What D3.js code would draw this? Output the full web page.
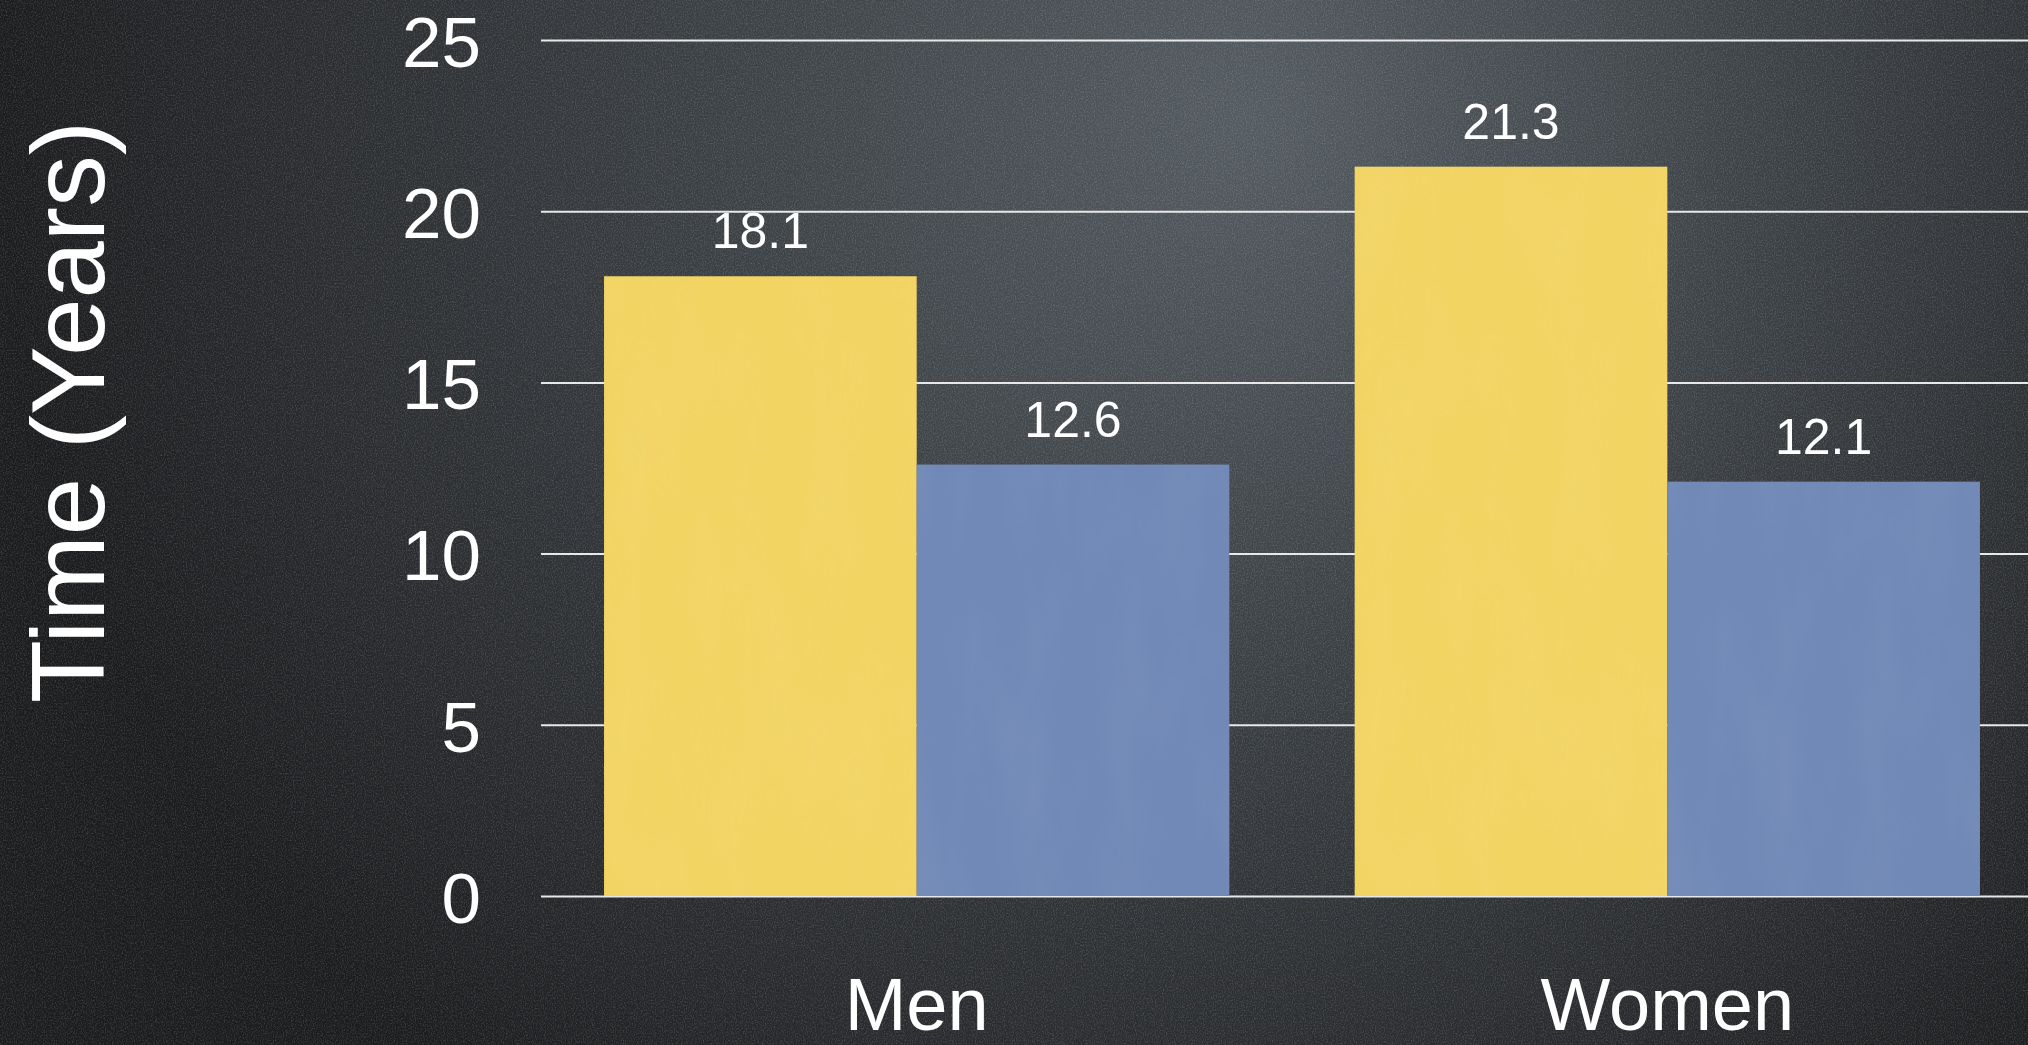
<!DOCTYPE html>
<html>
<head>
<meta charset="utf-8">
<script src="https://cdn.jsdelivr.net/npm/d3@7"></script>
<style>
  html, body { margin: 0; padding: 0; background: #222325; overflow: hidden; }
  svg { display: block; }
  text { font-family: "Liberation Sans", Arial, Helvetica, sans-serif; fill: #ffffff; }
</style>
</head>
<body>
<svg id="chart" width="2028" height="1045"></svg>
<script>
// Chart data
const categories = ["Men", "Women"];
const seriesKeys = ["first", "second"];
const firstValues = [18.1, 21.3];
const secondValues = [12.6, 12.1];
const yTicks = [0, 5, 10, 15, 20, 25];
const yTitle = "Time (Years)";
const seriesColors = ["#f2d463", "#7189b7"];

const W = 2028, H = 1045;
const svg = d3.select("#chart");
const defs = svg.append("defs");

// Chalkboard background: soft light patch in the upper middle fading to dark edges
const bg = defs.append("radialGradient")
  .attr("id", "board")
  .attr("gradientUnits", "userSpaceOnUse")
  .attr("cx", 1250).attr("cy", 120).attr("r", 1250)
  .attr("fx", 1250).attr("fy", 120);
bg.append("stop").attr("offset", "0%").attr("stop-color", "#545c61");
bg.append("stop").attr("offset", "40%").attr("stop-color", "#3d4246");
bg.append("stop").attr("offset", "75%").attr("stop-color", "#2a2c2f");
bg.append("stop").attr("offset", "100%").attr("stop-color", "#1b1c1e");

// Fine grain for the board surface
const grain = defs.append("filter").attr("id", "grain")
  .attr("x", 0).attr("y", 0).attr("width", "100%").attr("height", "100%");
grain.append("feTurbulence").attr("type", "fractalNoise")
  .attr("baseFrequency", "0.9 0.6").attr("numOctaves", 2).attr("seed", 7).attr("result", "n");
grain.append("feColorMatrix").attr("in", "n").attr("type", "matrix")
  .attr("values", "0 0 0 0 1  0 0 0 0 1  0 0 0 0 1  0 0 0 0.9 -0.38");

// Soft mottling for the bars
const mottle = defs.append("filter").attr("id", "mottle")
  .attr("x", 0).attr("y", 0).attr("width", "100%").attr("height", "100%");
mottle.append("feTurbulence").attr("type", "fractalNoise")
  .attr("baseFrequency", "0.02 0.006").attr("numOctaves", 3).attr("seed", 3).attr("result", "n");
mottle.append("feColorMatrix").attr("in", "n").attr("type", "matrix")
  .attr("values", "0 0 0 0 1  0 0 0 0 1  0 0 0 0 1  0 0 0 0.5 -0.2");

svg.append("rect").attr("width", W).attr("height", H).attr("fill", "url(#board)");
svg.append("rect").attr("width", W).attr("height", H).attr("filter", "url(#grain)").attr("opacity", 0.4);

// Scales
const plotLeft = 541, plotRight = W;
const y = d3.scaleLinear().domain([0, 25]).range([896, 40]);
const x0 = d3.scaleBand().domain(categories).range([541, 2043])
  .paddingInner(0.167).paddingOuter(0.084);
const x1 = d3.scaleBand().domain(seriesKeys).range([0, x0.bandwidth()]).padding(0);
const color = d3.scaleOrdinal().domain(seriesKeys).range(seriesColors);

const rows = categories.map((c, i) => ({
  category: c,
  values: [
    { key: "first", value: firstValues[i] },
    { key: "second", value: secondValues[i] }
  ]
}));

// Gridlines and tick labels
const yAxis = d3.axisLeft(y)
  .tickValues(yTicks)
  .tickSize(-(plotRight - plotLeft))
  .tickPadding(60)
  .tickFormat(d3.format("d"));

const axisG = svg.append("g")
  .attr("transform", `translate(${plotLeft},0)`)
  .call(yAxis);
axisG.select(".domain").remove();
axisG.selectAll(".tick line")
  .attr("stroke", "#e8e8e8")
  .attr("stroke-width", 2);
axisG.selectAll(".tick text")
  .attr("fill", "#ffffff")
  .attr("font-size", 71)
  .attr("dy", "0.37em")
  .style("font-family", "'Liberation Sans', Arial, sans-serif");

// Bars
const groups = svg.append("g").selectAll("g")
  .data(rows)
  .join("g")
  .attr("transform", d => `translate(${x0(d.category)},0)`);

groups.selectAll("rect.bar")
  .data(d => d.values)
  .join("rect")
  .attr("class", "bar")
  .attr("x", d => x1(d.key))
  .attr("y", d => y(d.value))
  .attr("width", x1.bandwidth())
  .attr("height", d => y(0) - y(d.value))
  .attr("fill", d => color(d.key));

groups.selectAll("rect.tex")
  .data(d => d.values)
  .join("rect")
  .attr("class", "tex")
  .attr("x", d => x1(d.key))
  .attr("y", d => y(d.value))
  .attr("width", x1.bandwidth())
  .attr("height", d => y(0) - y(d.value))
  .attr("filter", "url(#mottle)")
  .attr("opacity", 0.18);

// Value labels above each bar
groups.selectAll("text.value")
  .data(d => d.values)
  .join("text")
  .attr("class", "value")
  .attr("x", d => x1(d.key) + x1.bandwidth() / 2)
  .attr("y", d => y(d.value) - 28)
  .attr("text-anchor", "middle")
  .attr("font-size", 50)
  .text(d => d3.format(".1f")(d.value));

// Category labels
svg.append("g").selectAll("text")
  .data(categories)
  .join("text")
  .attr("x", d => x0(d) + x0.bandwidth() / 2)
  .attr("y", 1030)
  .attr("text-anchor", "middle")
  .attr("font-size", 74)
  .text(d => d);

// Axis title
svg.append("text")
  .attr("transform", "translate(104,412) rotate(-90)")
  .attr("text-anchor", "middle")
  .attr("font-size", 103)
  .text(yTitle);
</script>
</body>
</html>
